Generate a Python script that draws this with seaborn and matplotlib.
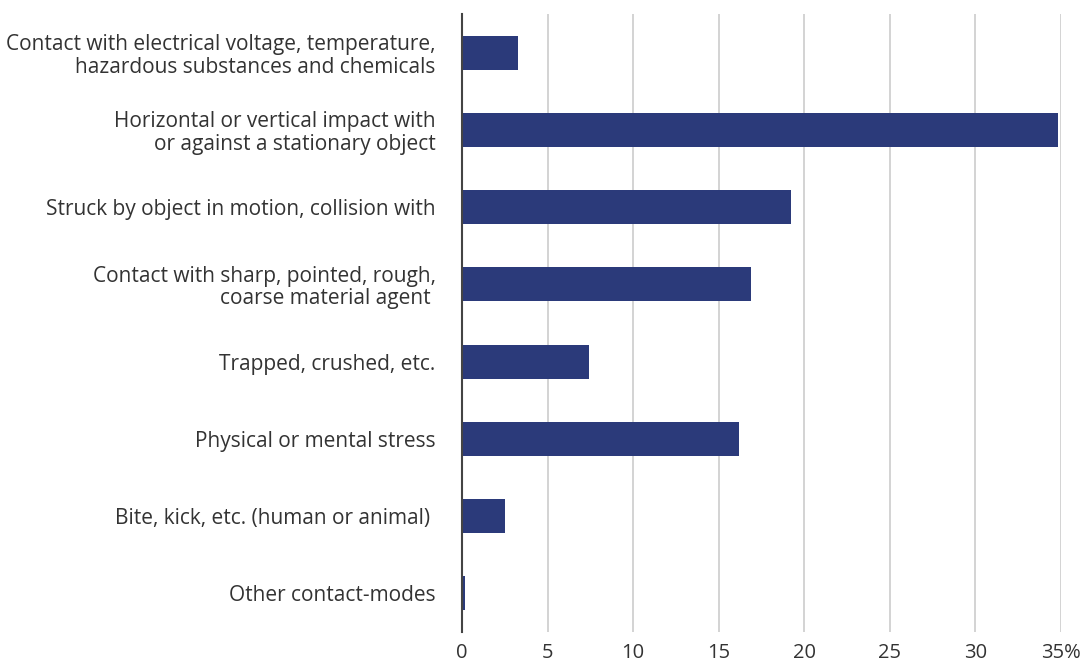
import matplotlib
matplotlib.use('Agg')
import matplotlib.pyplot as plt
import seaborn as sns
import pandas as pd

# --- data ---
categories = [
    'Contact with electrical voltage, temperature,\nhazardous substances and chemicals',
    'Horizontal or vertical impact with\nor against a stationary object',
    'Struck by object in motion, collision with',
    'Contact with sharp, pointed, rough,\ncoarse material agent ',
    'Trapped, crushed, etc.',
    'Physical or mental stress',
    'Bite, kick, etc. (human or animal) ',
    'Other contact-modes',
]
shares = [3.3, 34.8, 19.2, 16.9, 7.4, 16.2, 2.5, 0.2]
xticks = [0, 5, 10, 15, 20, 25, 30, 35]
xticklabels = ['0', '5', '10', '15', '20', '25', '30', '35%']

df = pd.DataFrame({'category': categories, 'share': shares})

sns.set_style('white')
plt.rcParams['font.family'] = ['Open Sans', 'DejaVu Sans']

fig = plt.figure(figsize=(10.86, 6.69), dpi=100)
ax = fig.add_axes([462 / 1086, 1 - 632 / 669, (1061 - 462) / 1086, (632 - 14) / 669])

sns.barplot(data=df, x='share', y='category', color='#2b3a7a', width=0.44,
            saturation=1, linewidth=0, ax=ax, zorder=3)

ax.set_xlim(0, 35)
ax.set_ylim(7.5, -0.5)
ax.set_xticks(xticks)
ax.set_xticklabels(xticklabels)
ax.grid(axis='x', color='#cccccc', linewidth=1.2, zorder=0)
ax.set_axisbelow(True)

for s in ['top', 'right', 'bottom']:
    ax.spines[s].set_visible(False)
ax.spines['left'].set_color('#444444')
ax.spines['left'].set_linewidth(1.5)
ax.spines['left'].set_zorder(4)

ax.tick_params(axis='x', length=0, labelsize=14.5, colors='#333333', pad=8)
ax.tick_params(axis='y', length=0, labelsize=15, colors='#333333', pad=19)
for lbl in ax.get_yticklabels():
    lbl.set_horizontalalignment('right')
    lbl.set_multialignment('right')
    lbl.set_linespacing(1.1)
ax.set_xlabel('')
ax.set_ylabel('')

fig.savefig('out.png', dpi=100)
